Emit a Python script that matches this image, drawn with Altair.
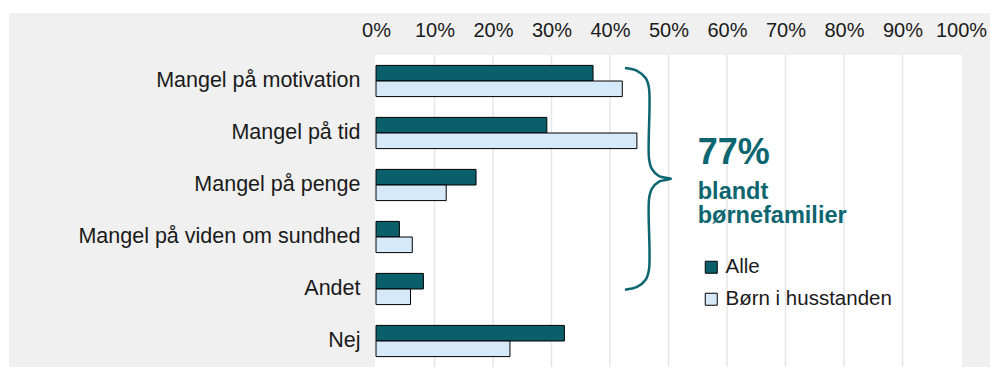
import altair as alt
import pandas as pd

# ---- data ----
categories = ["Mangel på motivation", "Mangel på tid", "Mangel på penge",
              "Mangel på viden om sundhed", "Andet", "Nej"]
series_names = ["Alle", "Børn i husstanden"]
alle_values = [37.1, 29.2, 17.1, 4.0, 8.1, 32.2]
born_values = [42.1, 44.6, 12.0, 6.2, 5.9, 22.9]
tick_values = [0, 10, 20, 30, 40, 50, 60, 70, 80, 90, 100]
grid_values = [10, 20, 30, 40, 50, 60, 70, 80, 90]

# brace annotation (x in %, y in category-index units)
brace_x = [42.56, 44.62, 46.12, 46.67, 46.67, 47.13, 48.38, 50.43,
           48.38, 47.13, 46.67, 46.67, 46.12, 44.62, 42.56]
brace_y = [-0.249, -0.196, -0.052, 0.144, 1.490, 1.686, 1.830, 1.882,
           1.935, 2.079, 2.275, 3.621, 3.817, 3.961, 4.013]

annot_text = ["77%", "blandt", "børnefamilier"]
annot_x = [55.0, 55.0, 55.0]
annot_y = [1.59, 2.27, 2.74]
annot_size = [36, 23.5, 23.5]

TEAL = "#0b5f6b"
LIGHT = "#d6e9f8"
ACCENT = "#0d6570"
FONT = "Liberation Sans"
W, H = 585, 312

bars_df = pd.DataFrame({
    "cat": categories * 2,
    "series": [series_names[0]] * len(categories) + [series_names[1]] * len(categories),
    "value": alle_values + born_values,
})
brace_df = pd.DataFrame({"bx": brace_x, "by": brace_y, "order": list(range(len(brace_x)))})
text_df = pd.DataFrame({"t": annot_text, "tx": annot_x, "ty": annot_y, "fs": annot_size})
grid_df = pd.DataFrame({"g": grid_values})
one = pd.DataFrame({"a": [0]})

x_scale = alt.Scale(domain=[0, 100], nice=False)
x_axis = alt.Axis(orient="top", values=tick_values, labelExpr="datum.value + '%'",
                  grid=False, ticks=False, tickSize=0, domain=False,
                  labelFontSize=20, labelFont=FONT, labelColor="#1a1a1a",
                  labelPadding=15, zindex=1, title=None,
                  labelOverlap=False, labelFlush=False, labelBound=False)

gray_bg = alt.Chart(one).mark_rect(color="#f0f0f0").encode(
    x=alt.value(-367), x2=alt.value(W + 40), y=alt.value(-42), y2=alt.value(H + 10)
)
white_bg = alt.Chart(one).mark_rect(color="white").encode(
    x=alt.value(-1), x2=alt.value(W + 1), y=alt.value(0), y2=alt.value(H + 10)
)
grid = alt.Chart(grid_df).mark_rule(color="#e6e6e6", strokeWidth=1.5).encode(
    x=alt.X("g:Q", scale=x_scale, axis=x_axis, title=None)
)

bars = alt.Chart(bars_df).mark_bar(stroke="black", strokeWidth=1).encode(
    x=alt.X("value:Q", scale=x_scale, axis=x_axis, title=None),
    y=alt.Y("cat:N", sort=categories,
            scale=alt.Scale(paddingInner=0.4, paddingOuter=0.2),
            axis=alt.Axis(title=None, labelFontSize=21.5, labelFont=FONT, labelColor="#1a1a1a",
                          labelPadding=16, ticks=False, tickSize=0, domain=False,
                          zindex=1, labelLimit=400)),
    yOffset=alt.YOffset("series:N", sort=series_names,
                        scale=alt.Scale(paddingInner=0, paddingOuter=0)),
    color=alt.Color("series:N", scale=alt.Scale(domain=series_names, range=[TEAL, LIGHT]),
                    legend=alt.Legend(title=None, orient="none", legendX=325, legendY=202,
                                      symbolType="square", symbolSize=144,
                                      symbolStrokeColor="black", symbolStrokeWidth=1,
                                      symbolOpacity=1, labelFontSize=20.5, labelFont=FONT,
                                      labelColor="#1a1a1a", rowPadding=11, labelOffset=4,
                                      labelLimit=400)),
)

yq = alt.Scale(domain=[-0.5, 5.5], reverse=True, nice=False, zero=False)

brace = alt.Chart(brace_df).mark_line(color=ACCENT, strokeWidth=2.5,
                                      interpolate="catmull-rom").encode(
    x=alt.X("bx:Q", scale=x_scale, axis=x_axis, title=None),
    y=alt.Y("by:Q", scale=yq, axis=None),
    order="order:Q",
)

texts = alt.Chart(text_df).mark_text(align="left", baseline="alphabetic", font=FONT,
                                     fontWeight="bold", color=ACCENT).encode(
    x=alt.X("tx:Q", scale=x_scale, axis=x_axis, title=None),
    y=alt.Y("ty:Q", scale=yq, axis=None),
    text="t:N",
    size=alt.Size("fs:Q", scale=None),
)

chart = alt.layer(gray_bg, white_bg, grid, bars, brace, texts).resolve_scale(
    y="independent"
).properties(
    width=W, height=H,
    padding={"left": 376, "top": 55, "right": 29, "bottom": 0},
    autosize="none",
    background="white",
).configure_view(stroke=None)

chart.save("out.html", embed_options={"renderer": "svg", "actions": False})
